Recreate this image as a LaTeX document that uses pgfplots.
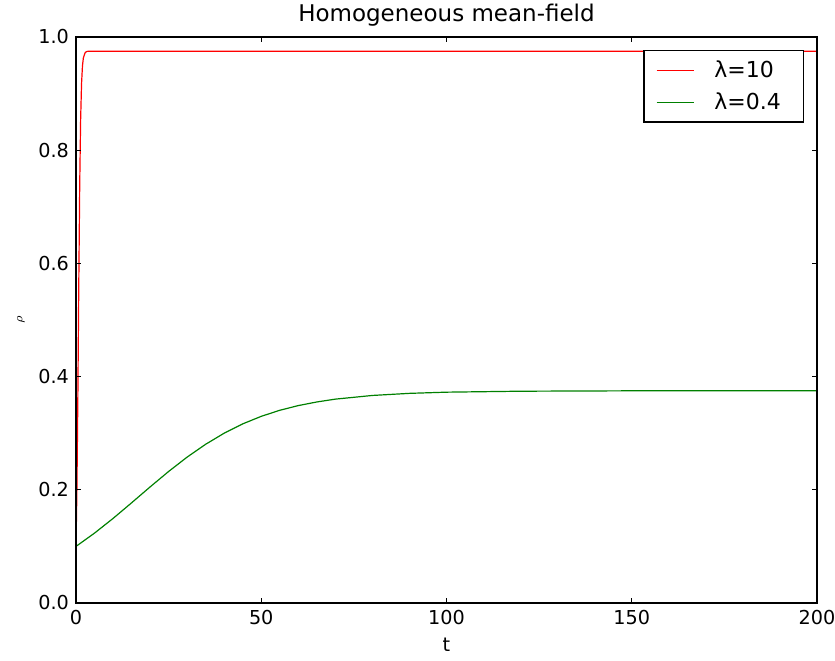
\documentclass[border=0pt]{standalone}
\usepackage{pgfplots}
\pgfplotsset{compat=1.18}
\usepackage{fontspec}
\setmainfont{DejaVu Sans}

\definecolor{mplred}{rgb}{1,0,0}
\definecolor{mplgreen}{rgb}{0,0.5,0}

\begin{document}
\begin{tikzpicture}
% canvas: 835x660 px at 0.5pt per px
\useasboundingbox (-38pt,-28.5pt) rectangle (379.5pt,301.5pt);
\begin{axis}[
    at={(0,0)}, anchor=south west,
    scale only axis,
    width=370.5pt, height=283pt,
    xmin=0, xmax=200, ymin=0, ymax=1,
    axis on top,
    xtick={0,50,100,150,200},
    ytick={0,0.2,0.4,0.6,0.8,1.0},
    yticklabel style={/pgf/number format/.cd, fixed, fixed zerofill, precision=1},
    /pgf/number format/assume math mode=true,
    tick label style={font=\fontsize{9.6}{11}\selectfont},
    major tick length=2.5pt,
    tick style={black, line width=0.5pt},
    axis line style={black, line width=0.7pt},
    title={Homogeneous mean-field},
    title style={font=\fontsize{11.5}{13}\selectfont, yshift=-4pt},
    xlabel={t},
    xlabel style={font=\fontsize{9.6}{11}\selectfont},
    ylabel={$\rho$},
    ylabel style={font=\fontsize{6}{7}\selectfont},
    legend style={at={(1,1)}, xshift=-6.5pt, yshift=-6.5pt, anchor=north east,
        draw=black, line width=0.7pt, font=\fontsize{11}{12.5}\selectfont,
        inner xsep=6pt, inner ysep=2.5pt, row sep=1pt,
        nodes={inner sep=2.5pt}},
    legend cell align=left,
    legend image code/.code={\draw[#1] (0pt,0pt) -- (18.5pt,0pt);},
]
\addplot[mplred, line width=0.6pt] coordinates {
    (0,0.1) (0.25,0.2017) (0.5,0.3638) (0.75,0.5614) (1,0.7371)
    (1.25,0.8542) (1.5,0.9181) (1.75,0.9493) (2,0.9635) (2.5,0.9728)
    (3,0.9746) (4,0.975) (50,0.975) (100,0.975) (150,0.975) (200,0.975) (200,0.8)
};
\addlegendentry{\hspace{7.5pt}\makebox[36pt][l]{λ=10}}
\addplot[mplgreen, line width=0.6pt] coordinates {
    (0,0.1) (5,0.1235) (10,0.1494) (15,0.1770) (20,0.2051) (25,0.2324)
    (30,0.2578) (35,0.2805) (40,0.3001) (45,0.3165) (50,0.3298)
    (55,0.3405) (60,0.3488) (65,0.3552) (70,0.3602) (80,0.3667)
    (90,0.3704) (100,0.3725) (120,0.3742) (150,0.3749) (200,0.375) (200,0.3)
};
\addlegendentry{\hspace{7.5pt}\makebox[36pt][l]{λ=0.4}}
\end{axis}
\end{tikzpicture}
\end{document}
